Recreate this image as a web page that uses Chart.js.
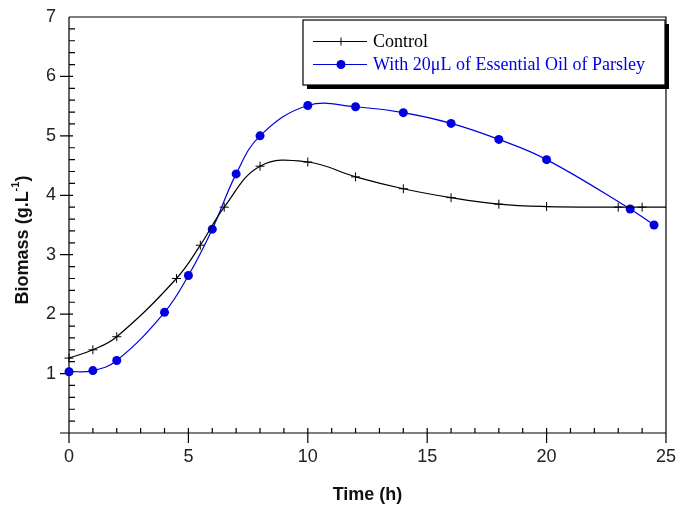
<!DOCTYPE html>
<html><head><meta charset="utf-8">
<script src="https://cdn.jsdelivr.net/npm/chart.js@4/dist/chart.umd.min.js"></script>
<style>html,body{margin:0;padding:0;background:#fff;}#wrap{width:676px;height:506px;}</style>
</head><body><div id="wrap"><canvas id="c" width="676" height="506"></canvas></div>
<script>
// ---- data ----
const controlTime    = [0, 1, 2, 4.5, 5.5, 6.5, 8, 10, 12, 14, 16, 18, 20, 23, 24, 25];
const controlBiomass = [1.26, 1.40, 1.62, 2.60, 3.16, 3.80, 4.49, 4.56, 4.31, 4.11, 3.96, 3.85, 3.81, 3.80, 3.80, 3.80];
const parsleyTime    = [0, 1, 2, 4, 5, 6, 7, 8, 10, 12, 14, 16, 18, 20, 23.5, 24.5];
const parsleyBiomass = [1.03, 1.05, 1.22, 2.03, 2.65, 3.43, 4.36, 5.00, 5.51, 5.49, 5.39, 5.21, 4.94, 4.60, 3.77, 3.50];
const xTicks = [0, 5, 10, 15, 20, 25];
const yTicks = [1, 2, 3, 4, 5, 6, 7];
const seriesNames = ['Control', 'With 20\u03BCL of Essential Oil of Parsley'];
const xTitle = 'Time (h)';
const yTitleMain = 'Biomass (g.L';
const yTitleSup = '-1';
const yTitleEnd = ')';

// ---- styles ----
const BLUE = '#0000e0';
const SANS = '"Liberation Sans", Arial, sans-serif';
const SERIF = '"Liberation Serif", "Times New Roman", serif';

const controlPts = controlTime.map((t, i) => ({x: t, y: controlBiomass[i]}));
const parsleyPts = parsleyTime.map((t, i) => ({x: t, y: parsleyBiomass[i]}));

const framePlugin = {
  id: 'frame',
  beforeDatasetsDraw(chart) {
    const {ctx, chartArea: a, scales: {x, y}} = chart;
    ctx.save();
    ctx.strokeStyle = '#000';
    ctx.lineWidth = 1.2;
    ctx.beginPath();
    ctx.moveTo(a.left, a.top); ctx.lineTo(a.right, a.top); ctx.lineTo(a.right, a.bottom);
    ctx.moveTo(a.left, a.top); ctx.lineTo(a.left, a.bottom);
    ctx.moveTo(a.left - 9, a.bottom); ctx.lineTo(a.right, a.bottom);
    for (let i = 1; i < 35; i++) {
      const py = y.getPixelForValue(i / 5);
      if (i % 5 === 0) { ctx.moveTo(a.left - 9, py); ctx.lineTo(a.left + 4, py); }
      else { ctx.moveTo(a.left, py); ctx.lineTo(a.left + 6, py); }
    }
    for (let i = 0; i <= 25; i++) {
      const px = x.getPixelForValue(i);
      if (i % 5 === 0) { ctx.moveTo(px, a.bottom - 5); ctx.lineTo(px, a.bottom + 10); }
      else { ctx.moveTo(px, a.bottom - 5); ctx.lineTo(px, a.bottom); }
    }
    ctx.stroke();

    ctx.fillStyle = '#111';
    ctx.font = 'bold 18px ' + SANS;
    ctx.textBaseline = 'middle';
    ctx.textAlign = 'center';
    ctx.fillText(xTitle, (a.left + a.right) / 2, 495);

    ctx.save();
    ctx.translate(23, 240);
    ctx.rotate(-Math.PI / 2);
    ctx.textAlign = 'left';
    ctx.font = 'bold 18px ' + SANS;
    const w1 = ctx.measureText(yTitleMain).width;
    const w3 = ctx.measureText(yTitleEnd).width;
    ctx.font = 'bold 11px ' + SANS;
    const w2 = ctx.measureText(yTitleSup).width;
    const sx = -(w1 + w2 + w3) / 2;
    ctx.font = 'bold 18px ' + SANS;
    ctx.fillText(yTitleMain, sx, 0);
    ctx.font = 'bold 11px ' + SANS;
    ctx.fillText(yTitleSup, sx + w1, -7);
    ctx.font = 'bold 18px ' + SANS;
    ctx.fillText(yTitleEnd, sx + w1 + w2, 0);
    ctx.restore();
    ctx.restore();
  },
  afterDraw(chart) {
    const ctx = chart.ctx;
    ctx.save();
    const L = 303, T = 20, R = 665, B = 85;
    ctx.fillStyle = '#000';
    ctx.fillRect(L + 4, T + 4, R - L, B - T);
    ctx.fillStyle = '#fff';
    ctx.fillRect(L, T, R - L, B - T);
    ctx.strokeStyle = '#000';
    ctx.lineWidth = 1.2;
    ctx.strokeRect(L, T, R - L, B - T);
    const rows = [41.5, 64.5];
    const colors = ['#000', BLUE];
    ctx.font = '18px ' + SERIF;
    ctx.textBaseline = 'middle';
    ctx.textAlign = 'left';
    rows.forEach((ry, i) => {
      ctx.strokeStyle = colors[i];
      ctx.lineWidth = 1.2;
      ctx.beginPath(); ctx.moveTo(313, ry); ctx.lineTo(367, ry); ctx.stroke();
      if (i === 0) {
        ctx.lineWidth = 1;
        ctx.beginPath(); ctx.moveTo(341, ry - 4); ctx.lineTo(341, ry + 4); ctx.stroke();
      } else {
        ctx.fillStyle = BLUE;
        ctx.beginPath(); ctx.arc(341, ry, 4.5, 0, Math.PI * 2); ctx.fill();
      }
      ctx.fillStyle = colors[i];
      ctx.fillText(seriesNames[i], 373, ry + 1);
    });
    ctx.restore();
  }
};

new Chart(document.getElementById('c'), {
  type: 'scatter',
  data: {
    datasets: [
      {
        label: seriesNames[0], data: controlPts, showLine: true, tension: 0.4,
        borderColor: '#000', borderWidth: 1.2, backgroundColor: '#000',
        pointStyle: 'cross', pointRadius: controlPts.map((p, i) => i === controlPts.length - 1 ? 0 : 4.5),
        pointBorderWidth: 1, pointBorderColor: '#000', clip: false
      },
      {
        label: seriesNames[1], data: parsleyPts, showLine: true, tension: 0.4,
        borderColor: BLUE, borderWidth: 1.2, backgroundColor: BLUE,
        pointStyle: 'circle', pointRadius: 4.5, pointBorderWidth: 0, clip: false
      }
    ]
  },
  options: {
    responsive: false, animation: false, devicePixelRatio: 1,
    layout: {padding: {top: 17, right: 10, left: 0, bottom: 0}},
    plugins: {legend: {display: false}, tooltip: {enabled: false}},
    scales: {
      x: {
        type: 'linear', min: 0, max: 25,
        grid: {display: false, drawTicks: true, tickLength: 13}, border: {display: false},
        afterBuildTicks: s => { s.ticks = xTicks.map(v => ({value: v})); },
        afterFit: s => { s.height = 73; },
        ticks: {color: '#222', font: {family: SANS, size: 18}, padding: 0, maxRotation: 0}
      },
      y: {
        type: 'linear', min: 0, max: 7,
        grid: {display: false, drawTicks: true, tickLength: 13}, border: {display: false},
        afterBuildTicks: s => { s.ticks = yTicks.map(v => ({value: v})); },
        afterFit: s => { s.width = 69; },
        ticks: {color: '#222', font: {family: SANS, size: 18}, padding: 0}
      }
    }
  },
  plugins: [framePlugin]
});
</script>
</body></html>
